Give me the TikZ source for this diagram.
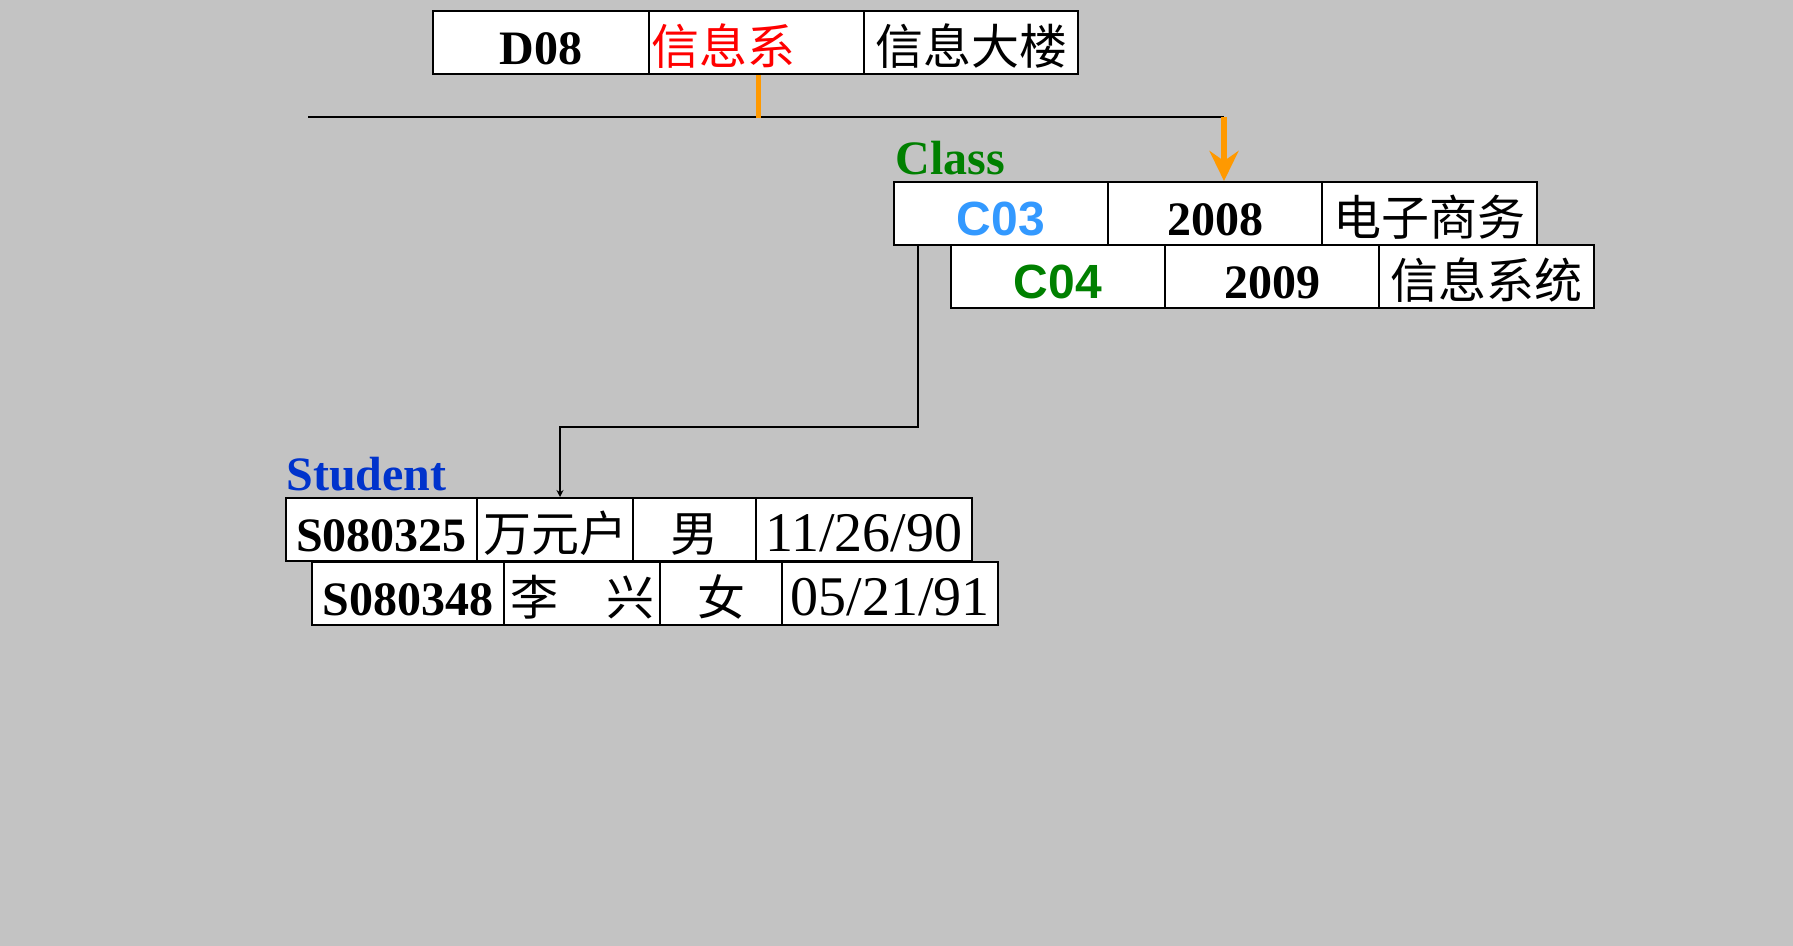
\documentclass[tikz,border=0pt]{standalone}
\usepackage{fontspec}
\setmainfont{Liberation Serif}
\newfontfamily\cjk{Noto Sans CJK SC}
\newfontfamily\arialf{Liberation Sans}
\usetikzlibrary{arrows.meta}
\definecolor{bgc}{RGB}{195,195,195}
\definecolor{dred}{RGB}{255,0,0}
\definecolor{orng}{RGB}{255,153,0}
\definecolor{cgreen}{RGB}{0,128,0}
\definecolor{sblue}{RGB}{0,51,204}
\definecolor{lblue}{RGB}{51,153,255}
\begin{document}
\begin{tikzpicture}[x=0.5pt,y=-0.5pt,
  cell/.style={draw=black, line width=1pt, fill=white, anchor=north west,
    minimum height=31.5pt, inner sep=0pt, text height=22.8pt, text depth=1pt,
    font=\fontsize{24}{28}\selectfont},
  w/.style={minimum width=#1*0.5pt},
  datefont/.style={font=\fontsize{28}{32}\selectfont},
  lbl/.style={anchor=base west, inner sep=0pt, font=\bfseries\fontsize{24}{28}\selectfont},
  conn/.style={line width=1pt, draw=black},
  oconn/.style={line width=2.8pt, draw=orng}]
\fill[bgc] (0,0) rectangle (1793,946);
\useasboundingbox (0,0) rectangle (1793,946);

% Department row
\node[cell, w=216] (d1) at (432,10) {\bfseries D08};
\node[cell, w=215, text=dred] (d2) at (648,10) {\cjk 信息系\rule{33pt}{0pt}};
\node[cell, w=214] (d3) at (863,10) {\cjk 信息大楼};

% Class
\node[lbl, text=cgreen] (classlbl) at (895,175) {Class};
\node[cell, w=214] (c1) at (893,181) {\arialf\bfseries\color{lblue}C03};
\node[cell, w=214] (c2) at (1107,181) {\bfseries 2008};
\node[cell, w=215] (c3) at (1321,181) {\cjk 电子商务};
\node[cell, w=214] (c4) at (950,244) {\arialf\bfseries\color{cgreen}C04};
\node[cell, w=214] (c5) at (1164,244) {\bfseries 2009};
\node[cell, w=215] (c6) at (1378,244) {\cjk 信息系统};

% Student
\node[lbl, text=sblue] (studlbl) at (286,490) {Student};
\node[cell, w=191] (s1) at (285,497) {\bfseries S080325};
\node[cell, w=156] (s2) at (476,497) {\cjk 万元户};
\node[cell, w=123] (s3) at (632,497) {\cjk 男};
\node[cell, w=216, datefont] (s4) at (755,497) {11/26/90};
\node[cell, w=192] (s5) at (311,561) {\bfseries S080348};
\node[cell, w=156] (s6) at (503,561) {\cjk 李　兴};
\node[cell, w=122] (s7) at (659,561) {\cjk 女};
\node[cell, w=216, datefont] (s8) at (781,561) {05/21/91};

% connectors
\coordinate (hl) at (308,117);
\coordinate (hr) at (1224,117);
\coordinate (bend) at (560,427);
\draw[conn] (hl) -- (hr);
\draw[oconn] (d2.south) ++(2,0) -- +(0,43);
\draw[oconn, -{Stealth[length=15pt,width=14.5pt,inset=5pt]}] (hr) -- (hr |- c2.north);
\draw[conn, -{Stealth[length=3.5pt,width=3.5pt]}] (c1.south west) ++(25,0) |- (bend) -- (bend |- s2.north);
\end{tikzpicture}
\end{document}
